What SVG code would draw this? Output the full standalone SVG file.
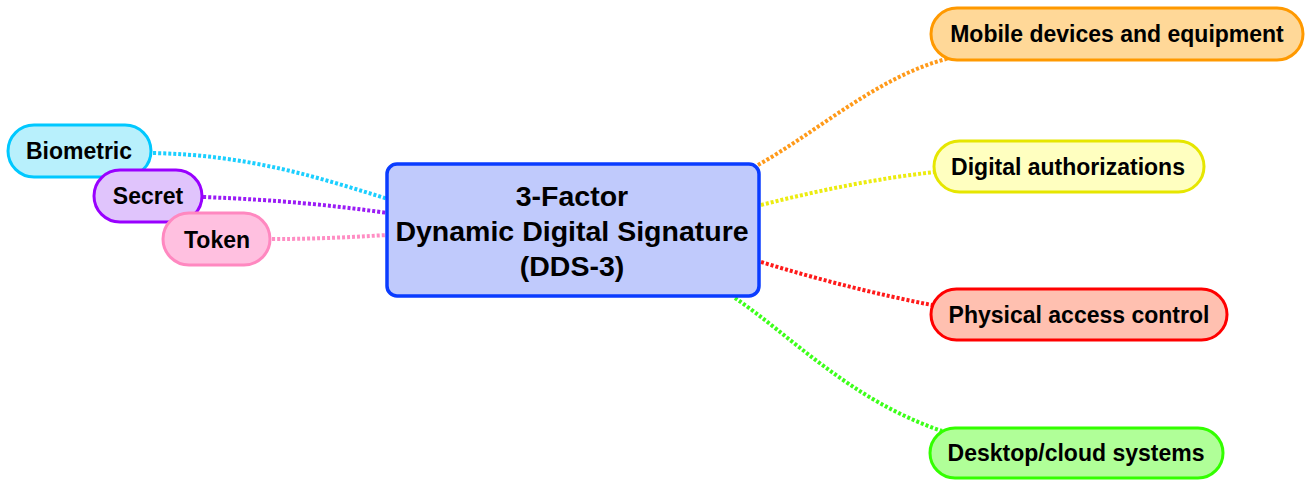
<svg xmlns="http://www.w3.org/2000/svg" width="1307" height="481" viewBox="0 0 1307 481">
<style>
text{font-family:"Liberation Sans",Arial,sans-serif;font-weight:bold;fill:#000;text-anchor:middle}
.lbl{font-size:23px}
.main{font-size:28.5px}
.c{fill:none;stroke-width:4;stroke-dasharray:3 2}
.n{stroke-width:3}
</style>
<rect width="1307" height="481" fill="#fff"/>
<g id="connectors">
<path class="c" stroke="#1ccfff" d="M153,153 C250,155 320,178 388,199"/>
<path class="c" stroke="#9a1cf5" d="M203,197 C280,200 330,205 388,213"/>
<path class="c" stroke="#ff8ec4" d="M272,239 C320,239 350,237 388,235"/>
<path class="c" stroke="#ff9a1a" d="M758,165 C820,130 880,75 950,58"/>
<path class="c" stroke="#ecec10" d="M761,205 C820,190 880,178 935,172"/>
<path class="c" stroke="#ff1a1a" d="M761,262 C820,280 880,295 932,305"/>
<path class="c" stroke="#3cff1a" d="M735,298 C790,335 850,400 942,431"/>
</g>
<g id="biometric">
<rect class="n" x="8" y="125" width="143" height="52" rx="26" fill="#b8f0fc" stroke="#00c8ff"/>
<text class="lbl" x="79" y="159">Biometric</text>
</g>
<g id="secret">
<rect class="n" x="94" y="170" width="108" height="52" rx="26" fill="#e0c4fc" stroke="#9900ff"/>
<text class="lbl" x="148" y="204">Secret</text>
</g>
<g id="token">
<rect class="n" x="163" y="213" width="107" height="52" rx="26" fill="#ffc0e0" stroke="#ff88c0"/>
<text class="lbl" x="217" y="248">Token</text>
</g>
<g id="center">
<rect x="387" y="164" width="372" height="132" rx="10" fill="#c0cafc" stroke="#0a3cff" stroke-width="3.5"/>
<text class="main" x="572" y="206">3-Factor</text>
<text class="main" x="572" y="241">Dynamic Digital Signature</text>
<text class="main" x="572" y="276">(DDS-3)</text>
</g>
<g id="mobile">
<rect class="n" x="931" y="8" width="372" height="52" rx="26" fill="#ffd898" stroke="#ff9900"/>
<text class="lbl" x="1117" y="42">Mobile devices and equipment</text>
</g>
<g id="digital">
<rect class="n" x="934" y="141" width="270" height="51" rx="25.5" fill="#ffffc0" stroke="#e6e600"/>
<text class="lbl" x="1068" y="175">Digital authorizations</text>
</g>
<g id="physical">
<rect class="n" x="931" y="289" width="296" height="51" rx="25.5" fill="#ffc0b0" stroke="#ff0000"/>
<text class="lbl" x="1079" y="323">Physical access control</text>
</g>
<g id="desktop">
<rect class="n" x="930" y="428" width="293" height="50" rx="25" fill="#b0ff98" stroke="#33ff00"/>
<text class="lbl" x="1076" y="461">Desktop/cloud systems</text>
</g>
</svg>
